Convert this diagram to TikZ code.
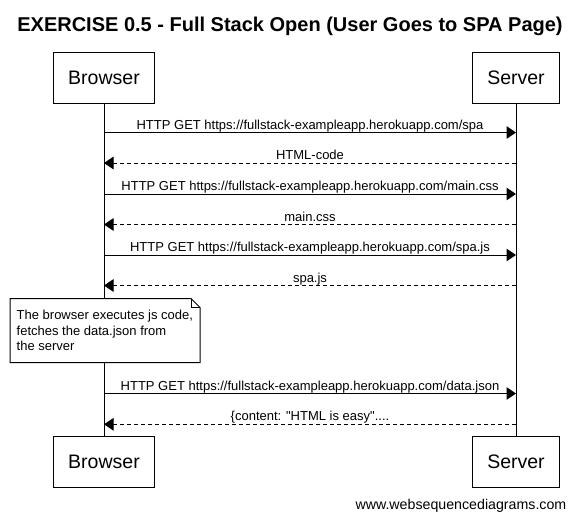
\documentclass[tikz,border=0pt]{standalone}
\usepackage{fontspec}
\setmainfont{Liberation Sans}[Ligatures=TeXOff]
\usetikzlibrary{arrows.meta}
\begin{document}
\begin{tikzpicture}[x=1pt,y=-1pt,
  actor/.style={draw, line width=1pt, fill=white, inner xsep=15pt, inner ysep=0pt,
    minimum height=51pt, font=\fontsize{19.5}{22}\selectfont},
  msg/.style={-{Triangle[length=9.5pt,width=12.5pt]}, line width=1pt},
  reply/.style={msg, dash pattern=on 4pt off 3pt},
  lbl/.style={font=\fontsize{13}{15}\selectfont, anchor=base, inner sep=0pt, yshift=3.5pt},
  lifeline/.style={line width=1pt},
  notebox/.style={line width=1pt, fill=white}
]
\useasboundingbox (0,0) rectangle (575,520);
\fill[white] (0,0) rectangle (575,520);

\node[font=\bfseries\fontsize{20}{24}\selectfont, anchor=base, inner sep=0pt] (title) at (290,31)
  {EXERCISE 0.5 - Full Stack Open (User Goes to SPA Page)};

\node[actor] (bTop) at (104,77.5) {Browser};
\node[actor] (sTop) at (516,77.5) {Server};
\node[actor] (bBot) at (104,462) {Browser};
\node[actor] (sBot) at (516,462) {Server};

\draw[lifeline] (bTop.south) -- (bBot.north);
\draw[lifeline] (sTop.south) -- (sBot.north);

% lifeline coordinates
\foreach \i/\y in {1/132.5,2/163,3/194,4/224.5,5/255,6/285.5,7/393.5,8/424.3}{
  \coordinate (b\i) at (104,\y);
  \coordinate (s\i) at (516,\y);
}

\draw[msg] (b1) -- node[lbl] {HTTP GET https://fullstack-exampleapp.herokuapp.com/spa} (s1);
\draw[reply] (s2) -- node[lbl] {HTML-code} (b2);
\draw[msg] (b3) -- node[lbl] {HTTP GET https://fullstack-exampleapp.herokuapp.com/main.css} (s3);
\draw[reply] (s4) -- node[lbl] {main.css} (b4);
\draw[msg] (b5) -- node[lbl] {HTTP GET https://fullstack-exampleapp.herokuapp.com/spa.js} (s5);
\draw[reply] (s6) -- node[lbl] {spa.js} (b6);
\draw[msg] (b7) -- node[lbl] {HTTP GET https://fullstack-exampleapp.herokuapp.com/data.json} (s7);
\draw[reply] (s8) -- node[lbl] {\{content: "HTML is easy"....} (b8);

% note
\draw[notebox] (10,298.5) -- (191,298.5) -- (200,307.5) -- (200,362.5) -- (10,362.5) -- cycle;
\draw[line width=1pt] (191,298.5) -- (191,307.5) -- (200,307.5);
\node[anchor=north west, align=left, inner sep=0pt, font=\fontsize{13}{15.5}\selectfont] (note) at (16.5,310)
  {The browser executes js code,\\fetches the data.json from\\the server};

\node[anchor=base east, inner sep=0pt, font=\fontsize{14.2}{16}\selectfont] (footer) at (566.5,509.5)
  {www.websequencediagrams.com};
\end{tikzpicture}
\end{document}
